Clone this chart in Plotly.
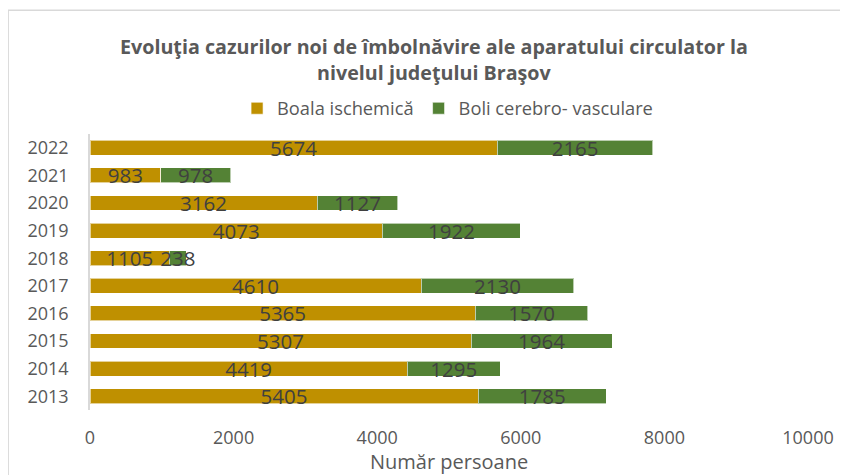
import plotly.graph_objects as go

years = ["2013", "2014", "2015", "2016", "2017", "2018", "2019", "2020", "2021", "2022"]
ischemica = [5405, 4419, 5307, 5365, 4610, 1105, 4073, 3162, 983, 5674]
cerebro = [1785, 1295, 1964, 1570, 2130, 238, 1922, 1127, 978, 2165]
x_ticks = [0, 2000, 4000, 6000, 8000, 10000]

FONT = "Open Sans, sans-serif"
label_font = dict(family=FONT, size=20.5, color="#404040")

fig = go.Figure()
fig.add_trace(go.Bar(
    y=years, x=ischemica, orientation="h", name="Boala ischemică",
    marker=dict(color="#BF9000", line=dict(color="rgba(255,255,255,0.6)", width=1)),
    text=ischemica, textposition="inside", insidetextanchor="middle",
    constraintext="none", textfont=label_font, cliponaxis=False,
))
fig.add_trace(go.Bar(
    y=years, x=cerebro, orientation="h", name="Boli cerebro- vasculare",
    marker=dict(color="#548235", line=dict(color="rgba(255,255,255,0.6)", width=1)),
    text=cerebro, textposition="inside", insidetextanchor="middle",
    constraintext="none", textfont=label_font, cliponaxis=False,
))

fig.update_layout(
    barmode="stack",
    bargap=0.46,
    width=840, height=467,
    margin=dict(l=82, r=40, t=126, b=65, autoexpand=False),
    paper_bgcolor="white", plot_bgcolor="white",
    font=dict(family=FONT, color="#595959"),
    showlegend=True,
    legend=dict(orientation="h", x=0.498, xanchor="center", y=1.093, yanchor="middle",
                font=dict(size=18.3, color="#595959"), itemwidth=30,
                traceorder="normal", itemclick=False),
    xaxis=dict(range=[0, 10000], tickvals=x_ticks, ticktext=[str(v) for v in x_ticks],
               showgrid=False, zeroline=False, showline=False, automargin=False,
               tickfont=dict(size=18, color="#595959"), ticklabelstandoff=15),
    yaxis=dict(showgrid=False, showline=True, linecolor="#D9D9D9", linewidth=1.5,
               automargin=False,
               tickfont=dict(size=18, color="#595959"), ticks="", ticklabelstandoff=16),
    annotations=[
        dict(text="<b>Evoluţia cazurilor noi de îmbolnăvire ale aparatului circulator la<br>nivelul judeţului Braşov</b>",
             xref="paper", yref="paper", x=0.479, y=1.27, xanchor="center", yanchor="middle",
             showarrow=False, font=dict(size=19.7, color="#595959"), align="center"),
        dict(text="Număr persoane", xref="paper", yref="paper", x=0.5, y=-0.185,
             xanchor="center", yanchor="middle", showarrow=False,
             font=dict(size=20, color="#595959")),
    ],
    shapes=[dict(type="rect", xref="paper", yref="paper", x0=-0.114, x1=1.2, y0=-0.5, y1=1.448,
                 line=dict(color="#D9D9D9", width=1.5), fillcolor="rgba(0,0,0,0)", layer="below")],
)

fig.write_html("out.html")
